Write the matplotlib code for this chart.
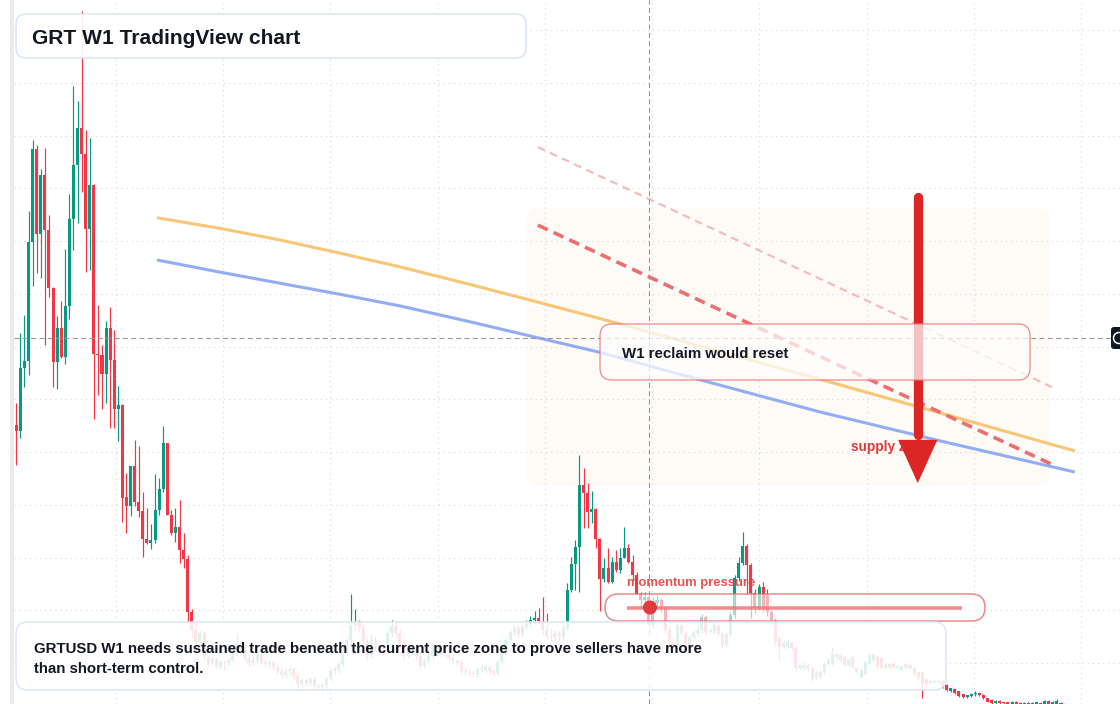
import matplotlib.pyplot as plt
import numpy as np
from matplotlib.patches import FancyBboxPatch, Rectangle, Polygon, Circle

plt.rcParams['font.family'] = ['Liberation Sans', 'DejaVu Sans']

# GRTUSD weekly candles (USD), oldest first
week_open = [
    0.551, 0.540, 0.659, 0.673, 0.898, 1.074, 0.914, 1.025, 0.920, 0.810,
    0.671, 0.736, 0.681, 0.777, 0.942, 1.044, 1.115, 1.065, 0.922, 1.006,
    0.685, 0.683, 0.647, 0.736, 0.674, 0.581, 0.589, 0.415, 0.398, 0.473,
    0.405, 0.388, 0.335, 0.327, 0.333, 0.390, 0.430, 0.517, 0.381, 0.346,
    0.358, 0.314, 0.297, 0.197, 0.163, 0.140, 0.157, 0.111, 0.100, 0.108,
    0.092, 0.102, 0.100, 0.106, 0.121, 0.138, 0.125, 0.110, 0.100, 0.106,
    0.115, 0.102, 0.098, 0.102, 0.092, 0.085, 0.077, 0.085, 0.089, 0.075,
    0.060, 0.068, 0.062, 0.070, 0.056, 0.055, 0.058, 0.072, 0.085, 0.089,
    0.098, 0.125, 0.144, 0.172, 0.178, 0.166, 0.142, 0.115, 0.144, 0.134,
    0.128, 0.125, 0.157, 0.170, 0.157, 0.134, 0.113, 0.123, 0.125, 0.113,
    0.094, 0.104, 0.113, 0.128, 0.121, 0.115, 0.117, 0.110, 0.104, 0.100,
    0.085, 0.083, 0.081, 0.079, 0.089, 0.087, 0.092, 0.085, 0.081, 0.102,
    0.127, 0.144, 0.159, 0.166, 0.155, 0.168, 0.174, 0.182, 0.185, 0.180,
    0.163, 0.151, 0.149, 0.157, 0.149, 0.166, 0.238, 0.288, 0.320, 0.437,
    0.422, 0.386, 0.392, 0.335, 0.259, 0.280, 0.254, 0.291, 0.276, 0.299,
    0.318, 0.291, 0.267, 0.231, 0.219, 0.226, 0.172, 0.214, 0.220, 0.205,
    0.163, 0.140, 0.132, 0.170, 0.157, 0.136, 0.150, 0.157, 0.163, 0.187,
    0.159, 0.161, 0.172, 0.155, 0.134, 0.155, 0.191, 0.262, 0.289, 0.322,
    0.286, 0.232, 0.205, 0.245, 0.229, 0.197, 0.181, 0.147, 0.130, 0.131,
    0.137, 0.129, 0.090, 0.090, 0.097, 0.090, 0.074, 0.074, 0.082, 0.098,
    0.099, 0.118, 0.115, 0.112, 0.096, 0.112, 0.090, 0.074, 0.080, 0.099,
    0.106, 0.112, 0.109, 0.090, 0.098, 0.099, 0.090, 0.087, 0.098, 0.090,
    0.090, 0.083, 0.082, 0.069, 0.063, 0.064, 0.064, 0.066, 0.058, 0.047,
    0.050, 0.046, 0.041, 0.036, 0.038, 0.041, 0.044, 0.040, 0.033, 0.030,
    0.024, 0.028, 0.026, 0.026, 0.023, 0.027, 0.025, 0.022, 0.025, 0.022,
    0.022, 0.025, 0.023, 0.028, 0.022, 0.022, 0.025,
]
week_high = [
    0.592, 0.725, 0.760, 0.956, 1.091, 1.082, 1.036, 1.077, 0.949, 0.812,
    0.758, 0.786, 0.885, 0.990, 1.194, 1.166, 1.336, 1.110, 1.095, 1.008,
    0.779, 0.703, 0.748, 0.775, 0.731, 0.625, 0.591, 0.460, 0.473, 0.523,
    0.511, 0.424, 0.394, 0.364, 0.458, 0.451, 0.549, 0.517, 0.390, 0.394,
    0.409, 0.346, 0.305, 0.202, 0.176, 0.163, 0.161, 0.115, 0.111, 0.111,
    0.106, 0.106, 0.111, 0.127, 0.157, 0.144, 0.132, 0.115, 0.113, 0.121,
    0.121, 0.108, 0.108, 0.106, 0.098, 0.091, 0.091, 0.094, 0.092, 0.079,
    0.072, 0.072, 0.074, 0.074, 0.060, 0.062, 0.075, 0.091, 0.094, 0.104,
    0.134, 0.151, 0.231, 0.202, 0.182, 0.174, 0.147, 0.157, 0.151, 0.142,
    0.136, 0.166, 0.182, 0.178, 0.163, 0.142, 0.128, 0.130, 0.130, 0.121,
    0.110, 0.119, 0.134, 0.134, 0.128, 0.123, 0.121, 0.113, 0.108, 0.106,
    0.091, 0.089, 0.087, 0.092, 0.096, 0.098, 0.096, 0.089, 0.106, 0.132,
    0.149, 0.164, 0.172, 0.172, 0.174, 0.182, 0.189, 0.199, 0.204, 0.225,
    0.195, 0.166, 0.163, 0.163, 0.174, 0.252, 0.301, 0.333, 0.494, 0.470,
    0.441, 0.426, 0.394, 0.337, 0.299, 0.318, 0.301, 0.314, 0.318, 0.358,
    0.326, 0.305, 0.273, 0.235, 0.235, 0.230, 0.226, 0.228, 0.224, 0.209,
    0.170, 0.147, 0.176, 0.176, 0.161, 0.155, 0.163, 0.170, 0.193, 0.191,
    0.166, 0.178, 0.176, 0.159, 0.161, 0.197, 0.266, 0.301, 0.348, 0.326,
    0.290, 0.240, 0.250, 0.254, 0.240, 0.200, 0.185, 0.150, 0.141, 0.146,
    0.142, 0.132, 0.099, 0.104, 0.100, 0.092, 0.086, 0.087, 0.101, 0.109,
    0.131, 0.121, 0.117, 0.114, 0.110, 0.114, 0.093, 0.090, 0.105, 0.118,
    0.119, 0.115, 0.111, 0.101, 0.100, 0.101, 0.096, 0.097, 0.100, 0.098,
    0.092, 0.085, 0.084, 0.071, 0.068, 0.068, 0.068, 0.068, 0.060, 0.053,
    0.051, 0.047, 0.042, 0.040, 0.043, 0.047, 0.045, 0.041, 0.034, 0.031,
    0.029, 0.029, 0.027, 0.027, 0.028, 0.028, 0.026, 0.026, 0.026, 0.026,
    0.027, 0.026, 0.030, 0.029, 0.028, 0.031, 0.026,
]
week_low = [
    0.475, 0.526, 0.624, 0.646, 0.815, 0.840, 0.829, 0.703, 0.794, 0.624,
    0.619, 0.678, 0.666, 0.753, 0.882, 0.935, 0.992, 0.842, 0.845, 0.563,
    0.608, 0.581, 0.592, 0.545, 0.545, 0.521, 0.367, 0.346, 0.379, 0.398,
    0.377, 0.301, 0.326, 0.316, 0.327, 0.381, 0.424, 0.381, 0.343, 0.329,
    0.290, 0.280, 0.178, 0.150, 0.121, 0.134, 0.106, 0.094, 0.096, 0.089,
    0.087, 0.087, 0.096, 0.102, 0.115, 0.115, 0.104, 0.094, 0.096, 0.100,
    0.096, 0.092, 0.092, 0.087, 0.079, 0.072, 0.072, 0.079, 0.068, 0.053,
    0.053, 0.056, 0.058, 0.051, 0.049, 0.049, 0.051, 0.066, 0.079, 0.081,
    0.092, 0.115, 0.134, 0.163, 0.159, 0.134, 0.106, 0.110, 0.125, 0.121,
    0.117, 0.121, 0.149, 0.149, 0.128, 0.108, 0.110, 0.115, 0.108, 0.089,
    0.091, 0.100, 0.108, 0.113, 0.110, 0.110, 0.104, 0.098, 0.094, 0.079,
    0.077, 0.075, 0.074, 0.074, 0.083, 0.081, 0.079, 0.075, 0.075, 0.098,
    0.121, 0.140, 0.153, 0.147, 0.149, 0.163, 0.168, 0.174, 0.174, 0.155,
    0.144, 0.142, 0.144, 0.134, 0.144, 0.163, 0.235, 0.238, 0.235, 0.356,
    0.356, 0.365, 0.318, 0.199, 0.254, 0.252, 0.252, 0.273, 0.271, 0.299,
    0.290, 0.257, 0.231, 0.205, 0.212, 0.157, 0.166, 0.205, 0.197, 0.157,
    0.134, 0.125, 0.128, 0.151, 0.130, 0.132, 0.145, 0.151, 0.157, 0.153,
    0.155, 0.155, 0.149, 0.128, 0.130, 0.151, 0.185, 0.255, 0.286, 0.231,
    0.185, 0.195, 0.200, 0.196, 0.190, 0.172, 0.132, 0.106, 0.126, 0.128,
    0.124, 0.086, 0.086, 0.087, 0.085, 0.064, 0.070, 0.072, 0.079, 0.096,
    0.097, 0.108, 0.102, 0.092, 0.093, 0.090, 0.080, 0.071, 0.078, 0.097,
    0.104, 0.090, 0.087, 0.088, 0.088, 0.091, 0.088, 0.085, 0.088, 0.088,
    0.076, 0.068, 0.033, 0.057, 0.061, 0.062, 0.062, 0.053, 0.047, 0.045,
    0.042, 0.036, 0.033, 0.034, 0.036, 0.038, 0.038, 0.032, 0.026, 0.023,
    0.023, 0.023, 0.023, 0.022, 0.022, 0.022, 0.021, 0.021, 0.021, 0.021,
    0.021, 0.021, 0.022, 0.022, 0.021, 0.021, 0.021,
]
week_close = [
    0.540, 0.659, 0.673, 0.898, 1.074, 0.914, 1.025, 0.920, 0.810, 0.671,
    0.736, 0.681, 0.777, 0.942, 1.044, 1.115, 1.065, 0.922, 1.006, 0.685,
    0.683, 0.647, 0.736, 0.674, 0.581, 0.589, 0.413, 0.398, 0.473, 0.405,
    0.388, 0.335, 0.327, 0.333, 0.390, 0.430, 0.517, 0.381, 0.346, 0.358,
    0.314, 0.297, 0.197, 0.163, 0.140, 0.157, 0.111, 0.100, 0.108, 0.092,
    0.102, 0.100, 0.106, 0.121, 0.138, 0.125, 0.110, 0.100, 0.106, 0.115,
    0.102, 0.098, 0.102, 0.092, 0.085, 0.077, 0.085, 0.089, 0.075, 0.060,
    0.068, 0.062, 0.070, 0.056, 0.055, 0.058, 0.072, 0.085, 0.089, 0.098,
    0.125, 0.144, 0.172, 0.178, 0.166, 0.142, 0.115, 0.144, 0.134, 0.128,
    0.125, 0.157, 0.170, 0.157, 0.134, 0.113, 0.123, 0.125, 0.113, 0.094,
    0.104, 0.113, 0.128, 0.121, 0.115, 0.117, 0.110, 0.104, 0.100, 0.085,
    0.083, 0.081, 0.079, 0.089, 0.091, 0.092, 0.085, 0.081, 0.102, 0.127,
    0.144, 0.159, 0.166, 0.155, 0.168, 0.174, 0.182, 0.185, 0.180, 0.163,
    0.151, 0.149, 0.157, 0.149, 0.166, 0.238, 0.288, 0.320, 0.437, 0.422,
    0.386, 0.392, 0.335, 0.259, 0.280, 0.254, 0.291, 0.276, 0.299, 0.318,
    0.291, 0.267, 0.231, 0.219, 0.226, 0.172, 0.214, 0.220, 0.205, 0.163,
    0.140, 0.132, 0.170, 0.157, 0.136, 0.150, 0.157, 0.163, 0.187, 0.159,
    0.161, 0.172, 0.155, 0.134, 0.155, 0.191, 0.262, 0.289, 0.322, 0.286,
    0.232, 0.205, 0.245, 0.205, 0.197, 0.181, 0.140, 0.131, 0.137, 0.140,
    0.128, 0.090, 0.096, 0.096, 0.088, 0.069, 0.083, 0.083, 0.098, 0.106,
    0.118, 0.112, 0.106, 0.096, 0.106, 0.093, 0.083, 0.087, 0.102, 0.115,
    0.115, 0.093, 0.090, 0.099, 0.090, 0.093, 0.094, 0.094, 0.090, 0.096,
    0.079, 0.071, 0.061, 0.060, 0.066, 0.066, 0.066, 0.055, 0.049, 0.052,
    0.044, 0.038, 0.035, 0.039, 0.042, 0.044, 0.039, 0.033, 0.027, 0.024,
    0.028, 0.024, 0.024, 0.023, 0.027, 0.023, 0.022, 0.025, 0.022, 0.025,
    0.026, 0.022, 0.028, 0.023, 0.027, 0.028, 0.022,
]

# moving averages, read at a few weeks (week index, price)
ma_weeks = [34.5, 49.9, 64.6, 79.3, 94.0, 110.0, 125.9, 143.0, 167.5, 196.9, 226.4, 259.4]
ma_orange = [0.944, 0.924, 0.902, 0.877, 0.851, 0.820, 0.788, 0.753, 0.701, 0.638, 0.574, 0.502]
ma_blue = [0.864, 0.841, 0.820, 0.799, 0.777, 0.749, 0.720, 0.689, 0.637, 0.576, 0.521, 0.462]

# descending supply lines
upper_weeks = [127.8, 253.8]
upper_prices = [1.078, 0.623]
lower_weeks = [127.8, 254.5]
lower_prices = [0.930, 0.474]

zone_weeks = (125.1, 253.3)
zone_prices = (0.437, 0.963)
cross_week = 155.0
cross_price = 0.716
arrow_week = 220.9
arrow_top, arrow_head, arrow_tip = 0.983, 0.523, 0.441

UP, DOWN = '#089981', '#f23645'

W, H = 1120, 704
fig = plt.figure(figsize=(W / 100, H / 100), dpi=100, facecolor='white')

# price pane: candle 0 at 16.3px, last candle at 1061px, price 0.1 at y=663px, 0.1 per 52.75px
n = len(week_close)
step = (1061 - 16.3) / (n - 1)
ppx = 0.1 / 52.75
ax = fig.add_axes([14 / W, 0, (W - 14) / W, 1])
ax.set_xlim(-(16.3 - 14) / step, (n - 1) + (W - 1061) / step)
ax.set_ylim(0.1 - (H - 663) * ppx, 0.1 + 663 * ppx)
ax.axis('off')

# supply zone
zone = FancyBboxPatch((zone_weeks[0], zone_prices[0]), zone_weeks[1] - zone_weeks[0],
                      zone_prices[1] - zone_prices[0],
                      boxstyle='round,pad=0,rounding_size=3', mutation_aspect=ppx * step,
                      fc='#fefaf6', ec='none', zorder=0.5)
ax.add_patch(zone)

# grid
for p in np.arange(0.1, 1.31, 0.1):
    ax.axhline(p, color='#d5d8dd', lw=0.8, ls=(0, (1, 3.6)), zorder=1)
for k in range(10):
    ax.axvline(24.36 + 26.29 * k, color='#d5d8dd', lw=0.8, ls=(0, (1, 3.6)), zorder=1)

# candles
o = np.array(week_open)
h = np.array(week_high)
l = np.array(week_low)
c = np.array(week_close)
idx = np.arange(n)
cols = np.where(c >= o, UP, DOWN)
ax.vlines(idx, l, h, colors=cols, lw=0.85, zorder=3)
ax.bar(idx, np.maximum(np.abs(c - o), 0.0022), 0.74, bottom=np.minimum(o, c),
       color=cols, linewidth=0, zorder=3)

# moving averages
ax.plot(ma_weeks, ma_orange, color='#f8c676', lw=2.2, zorder=3.5, solid_capstyle='butt')
ax.plot(ma_weeks, ma_blue, color='#93adf4', lw=2.2, zorder=3.5, solid_capstyle='butt')

# supply lines
ax.plot(upper_weeks, upper_prices, color='#f5b8b8', lw=1.5, ls=(0, (3.8, 2.6)), zorder=3.6)
ax.plot(lower_weeks, lower_prices, color='#e96f70', lw=2.6, ls=(0, (3.0, 1.8)), zorder=3.6)

# crosshair
ax.axvline(cross_week, color='#979797', lw=0.8, ls=(0, (4.5, 3)), zorder=4)
ax.axhline(cross_price, color='#979797', lw=0.8, ls=(0, (4.5, 3)), zorder=4)

ax.text(204.5, 0.502, 'supply zone', color='#e0393e', fontsize=9.8, fontweight='bold',
        va='baseline', zorder=5)

# arrow
ax.plot([arrow_week, arrow_week], [arrow_top, arrow_head + 0.01], color='#dc2626', lw=6.7,
        solid_capstyle='round', zorder=6)
ax.add_patch(Polygon([[arrow_week - 4.8, arrow_head], [arrow_week + 4.8, arrow_head],
                      [arrow_week, arrow_tip]], closed=True, color='#dc2626', lw=0, zorder=6))

# overlay in pixel units for boxes and captions
ov = fig.add_axes([0, 0, 1, 1])
ov.set_xlim(0, W)
ov.set_ylim(H, 0)
ov.axis('off')
ov.patch.set_alpha(0)

ov.add_patch(Rectangle((10, 0), 4, H, color='#ebebeb', lw=0))

def box(x, y, w, hgt, r, fc, ec, lw):
    ov.add_patch(FancyBboxPatch((x, y), w, hgt, boxstyle=f'round,pad=0,rounding_size={r}',
                                fc=fc, ec=ec, lw=lw, zorder=1))

# title
box(16, 14, 510, 44, 10, (1, 1, 1, 0.9), '#d5e2fa', 1.0)
ov.text(32, 43.5, 'GRT W1 TradingView chart', fontsize=15.1, fontweight='bold',
        color='#131722', va='baseline')

# reclaim box
box(600, 324, 430, 56, 12, (1, 1, 1, 0.72), (0.93, 0.45, 0.45, 0.85), 0.9)
ov.text(622, 358.5, 'W1 reclaim would reset', fontsize=10.8, fontweight='bold',
        color='#131722', va='baseline')

# momentum pill
box(605, 594, 380, 27, 13.5, (1, 1, 1, 0.62), (0.91, 0.42, 0.42, 0.8), 1.1)
ov.plot([627, 962], [607.5, 607.5], color=(0.92, 0.45, 0.45, 0.8), lw=2.6,
        solid_capstyle='butt', zorder=2)
ov.add_patch(Circle((650, 607.5), 7, color='#e0393e', lw=0, zorder=3))
ov.text(627, 586, 'momentum pressure', fontsize=9.4, fontweight='bold',
        color=(0.89, 0.25, 0.25, 0.9), va='baseline')

# caption box
box(16, 622, 930, 68, 12, (1, 1, 1, 0.87), '#dbe6fb', 1.1)
ov.text(34, 653, 'GRTUSD W1 needs sustained trade beneath the current price zone to prove sellers have more',
        fontsize=10.8, fontweight='bold', color='#131722', va='baseline')
ov.text(34, 673, 'than short-term control.', fontsize=10.8, fontweight='bold',
        color='#131722', va='baseline')

# crosshair price label stub at the right edge
box(1111, 327, 16, 22, 3, '#131722', 'none', 0)
ov.add_patch(Circle((1119, 338), 5.5, fill=False, ec='white', lw=1.1, zorder=2))

fig.savefig('out.png', dpi=100, facecolor='white')
